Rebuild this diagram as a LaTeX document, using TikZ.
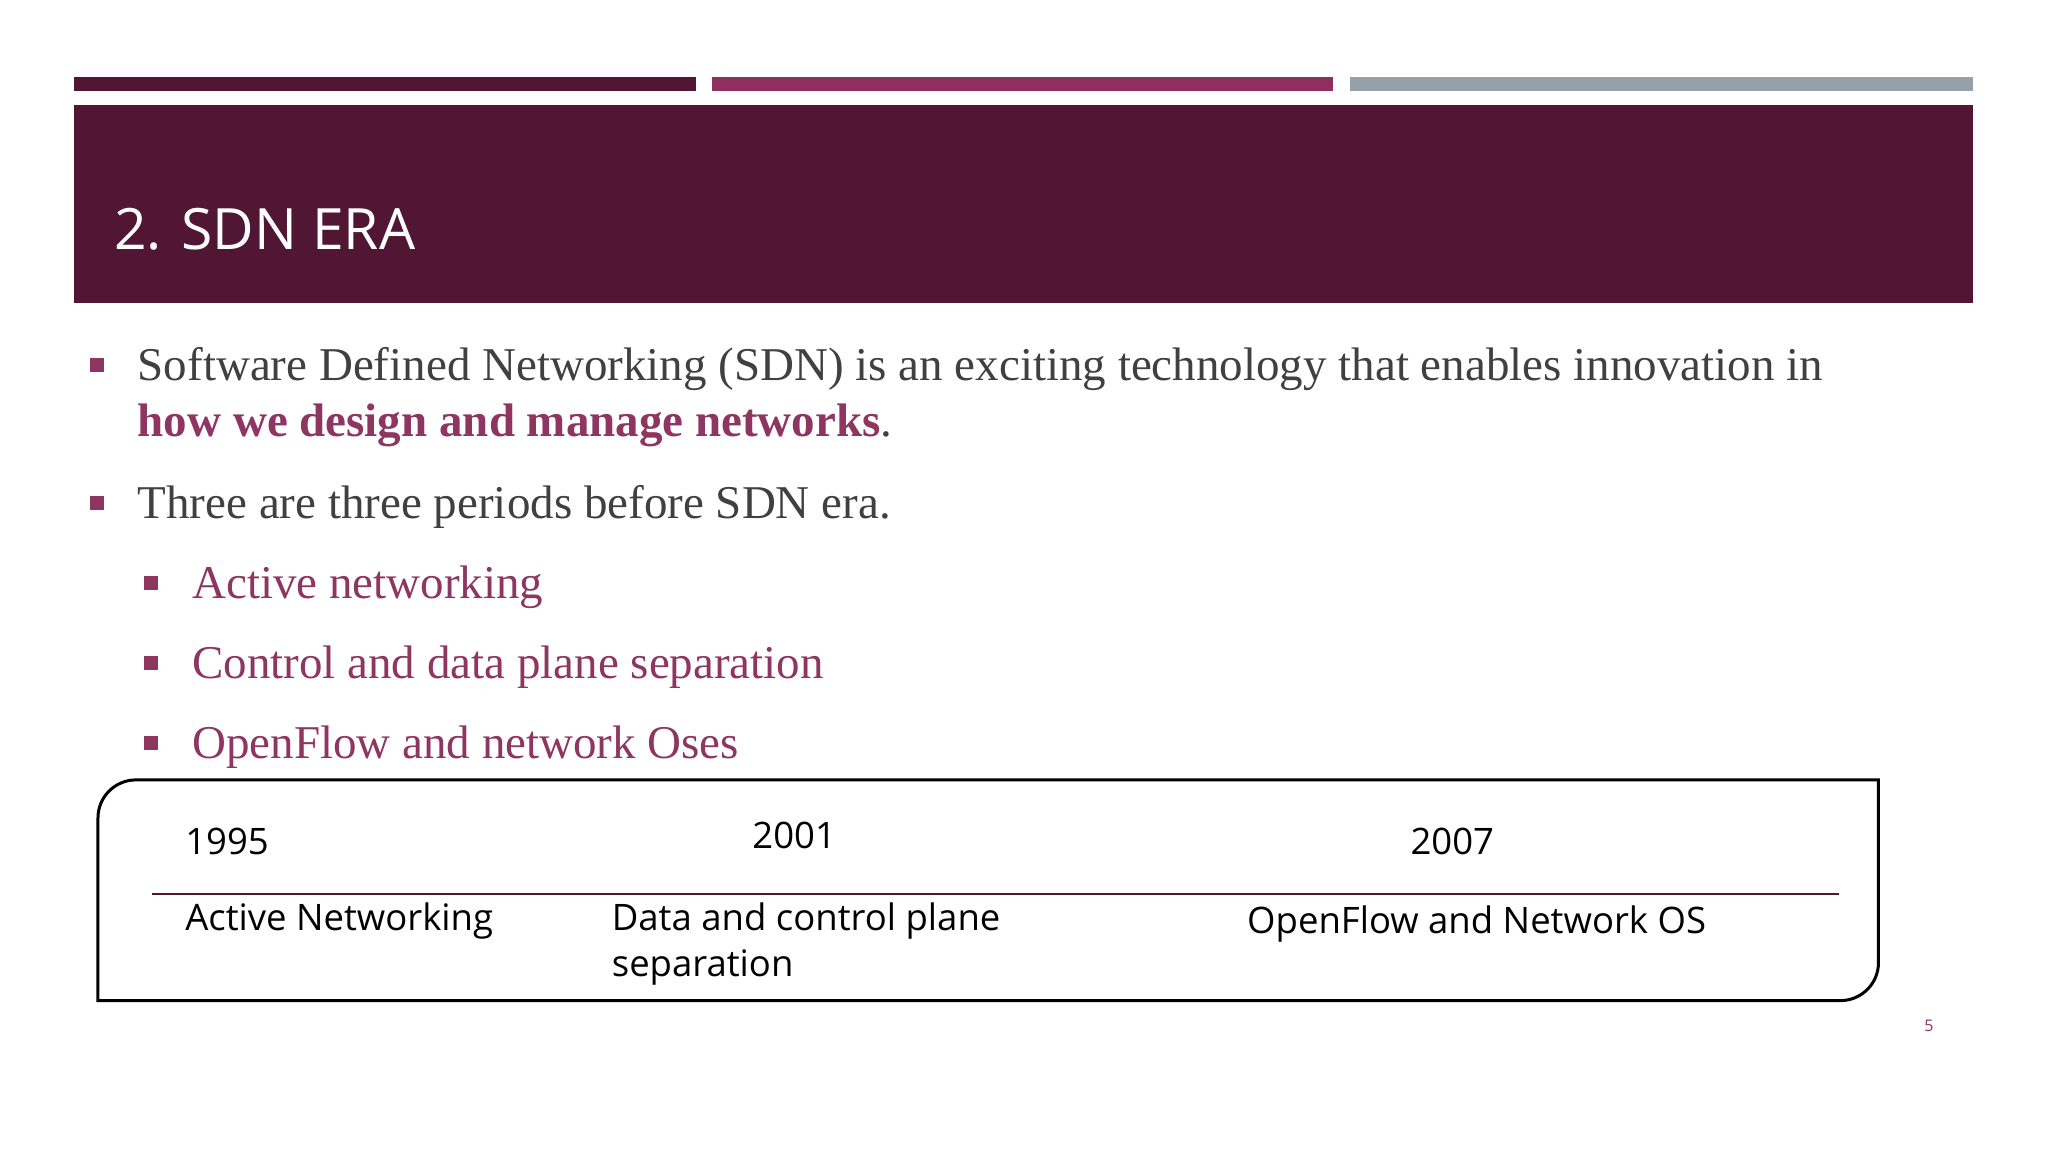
\documentclass[tikz,border=0pt]{standalone}
\usepackage{fontspec}
\setmainfont{Liberation Serif}
\newfontfamily\sansf{Open Sans}
\definecolor{darkm}{HTML}{511633}
\definecolor{midm}{HTML}{8E2F60}
\definecolor{greyb}{HTML}{95A0A9}
\definecolor{txt}{HTML}{404040}
\definecolor{hl}{HTML}{8E3562}
\tikzset{
  bul/.style={fill=hl,minimum size=14pt,inner sep=0pt},
  btxt/.style={anchor=west,inner sep=0pt,font=\fontsize{47}{54}\selectfont,text=txt},
  stxt/.style={anchor=west,inner sep=0pt,font=\fontsize{47}{54}\selectfont,text=hl},
  tl/.style={anchor=west,inner sep=0pt,font=\sansf\fontsize{36.5}{44}\selectfont,text=black}
}
\begin{document}
\begin{tikzpicture}[x=0.9897pt,y=-0.9897pt]
\useasboundingbox (0,0) rectangle (2069.3,1164);
\fill[white] (0,0) rectangle (2069.3,1164);
\fill[darkm] (75,78) rectangle (703,92);
\fill[midm] (719,78) rectangle (1347,92);
\fill[greyb] (1364,78) rectangle (1993,92);
\fill[darkm] (75,106) rectangle (1993,306);
\node[anchor=west,inner sep=0pt,text=white,font=\sansf\fontsize{57}{64}\selectfont] (title) at (115,232) {2. SDN ERA};
\node[bul] (b1) at (98,369) {};
\node[btxt] (t1) at (139,373) {Software Defined Networking (SDN) is an exciting technology that enables innovation in};
\node[btxt] (t1b) at (139,430) {\textcolor{hl}{\bfseries how we design and manage networks}.};
\node[bul] (b2) at (98,508) {};
\node[btxt] (t2) at (139,512) {Three are three periods before SDN era.};
\node[bul] (s1) at (153,589) {};
\node[stxt] (u1) at (194,593) {Active networking};
\node[bul] (s2) at (153,670) {};
\node[stxt] (u2) at (194,674) {Control and data plane separation};
\node[bul] (s3) at (153,751) {};
\node[stxt] (u3) at (194,755) {OpenFlow and network Oses};
\draw[line width=3pt,black] (99,1011) -- (99,900) [rounded corners=38pt] -- (99,788) -- (1000,788) [sharp corners] -- (1898,788) -- (1898,900) [rounded corners=38pt] -- (1898,1011) -- (1000,1011) [sharp corners] -- cycle;
\draw[darkm,line width=1.8pt] (154,903) -- (1858,903);
\node[tl] (y1) at (187,850) {1995};
\node[tl] (y2) at (760,844) {2001};
\node[tl] (y3) at (1425,850) {2007};
\node[tl] (e1) at (187,931) {Active Networking};
\node[tl,align=left,font=\sansf\fontsize{36.5}{46}\selectfont] (e2) at (618,954) {Data and control plane\\separation};
\node[tl] (e3) at (1260,934) {OpenFlow and Network OS};
\node[inner sep=0pt,text=hl,font=\sansf\fontsize{16}{18}\selectfont] (pg) at (1949,1037) {5};
\end{tikzpicture}
\end{document}
